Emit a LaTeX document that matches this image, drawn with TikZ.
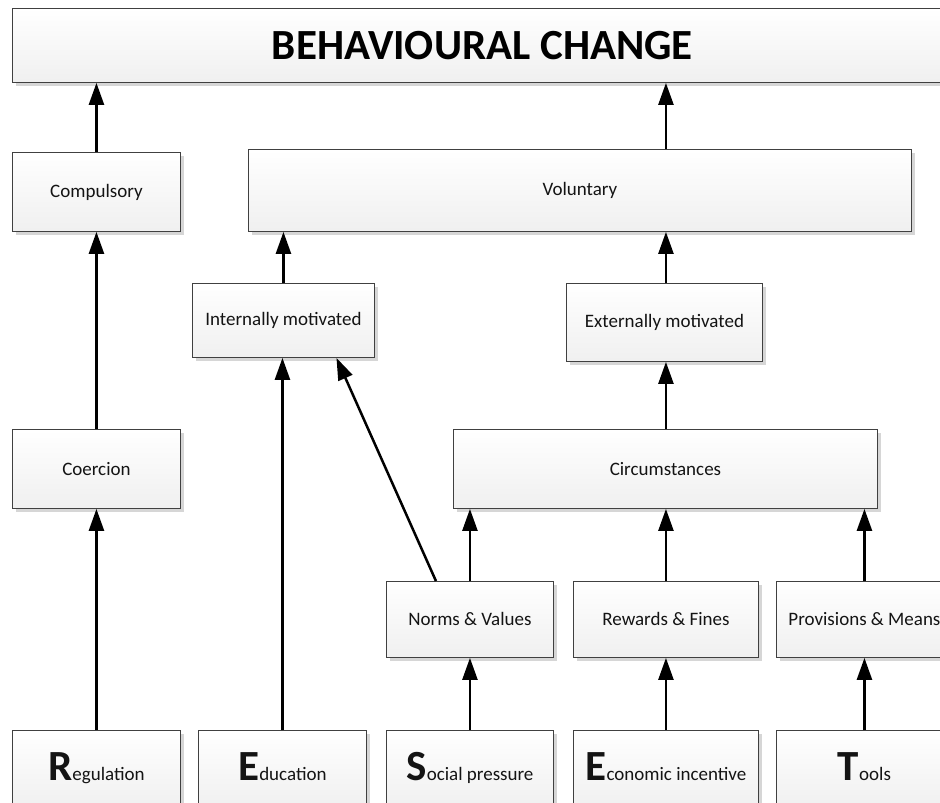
\documentclass[tikz,border=0pt]{standalone}
\usepackage{fontspec}
\setmainfont{Carlito}
\usetikzlibrary{arrows.meta,shadows,positioning}

\newcommand\firstletter[1]{{\bfseries\fontsize{43}{43}\selectfont #1}}

\tikzset{
  box/.style = {draw = black!75, line width = 0.9pt, anchor = north west, inner sep = 0pt,
    top color = white, bottom color = black!6,
    drop shadow = {shadow xshift = 4pt, shadow yshift = -4pt, fill = black!16, opacity = 1},
    text = black!92, font = \fontsize{19}{23}\selectfont},
  source/.style = {box, minimum height = 78, text height = 28pt, text depth = 5pt},
  up/.style = {-{Triangle[width = 15pt, length = 22pt]}, line width = 2.5pt}
}

\begin{document}
\begin{tikzpicture}[x = 1pt, y = -1pt]
  \clip (0,0) rectangle (940,803);
  \fill[white] (0,0) rectangle (940,803);

  \node[box, minimum width = 940, minimum height = 74, text = black,
    font = \bfseries\fontsize{43}{48}\selectfont]
    (bc) at (12,8) {BEHAVIOURAL CHANGE};

  \node[box, minimum width = 168, minimum height = 79] (compulsory) at (12,152) {Compulsory};
  \node[box, minimum width = 663, minimum height = 82] (voluntary) at (248,149) {Voluntary};
  \node[box, minimum width = 182, minimum height = 74] (internal) at (192,283) {Internally motivated};
  \node[box, minimum width = 196, minimum height = 78] (external) at (566,283) {Externally motivated};
  \node[box, minimum width = 168, minimum height = 79] (coercion) at (12,429) {Coercion};
  \node[box, minimum width = 424, minimum height = 79] (circum) at (453,429) {Circumstances};
  \node[box, minimum width = 167, minimum height = 76] (norms) at (386,581) {Norms \& Values};
  \node[box, minimum width = 185, minimum height = 76] (rewards) at (573,581) {Rewards \& Fines};
  \node[box, minimum width = 176, minimum height = 76] (provisions) at (776,581) {Provisions \& Means};

  \node[source, minimum width = 168] (regulation) at (12,730) {\firstletter{R}egulation};
  \node[source, minimum width = 168] (education) at (198,730) {\firstletter{E}ducation};
  \node[source, minimum width = 167] (social) at (386,730) {\firstletter{S}ocial pressure};
  \node[source, minimum width = 185] (economic) at (573,730) {\firstletter{E}conomic incentive};
  \node[source, minimum width = 176] (tools) at (776,730) {\firstletter{T}ools};

  \draw[up] (regulation.north) -- (coercion.south);
  \draw[up] (coercion.north) -- (compulsory.south);
  \draw[up] (compulsory.north) -- (compulsory.north |- bc.south);
  \draw[up] (education.north) -- (education.north |- internal.south);
  \draw[up] ([xshift = -34pt]norms.north) -- ([xshift = 53pt]internal.south);
  \draw[up] (internal.north) -- (internal.north |- voluntary.south);
  \draw[up] (social.north) -- (norms.south);
  \draw[up] (norms.north) -- (norms.north |- circum.south);
  \draw[up] (economic.north) -- (rewards.south);
  \draw[up] (rewards.north) -- (rewards.north |- circum.south);
  \draw[up] (tools.north) -- (provisions.south);
  \draw[up] (provisions.north) -- (provisions.north |- circum.south);
  \draw[up] (rewards.north |- circum.north) -- (rewards.north |- external.south);
  \draw[up] (rewards.north |- external.north) -- (rewards.north |- voluntary.south);
  \draw[up] (rewards.north |- voluntary.north) -- (rewards.north |- bc.south);
\end{tikzpicture}
\end{document}
